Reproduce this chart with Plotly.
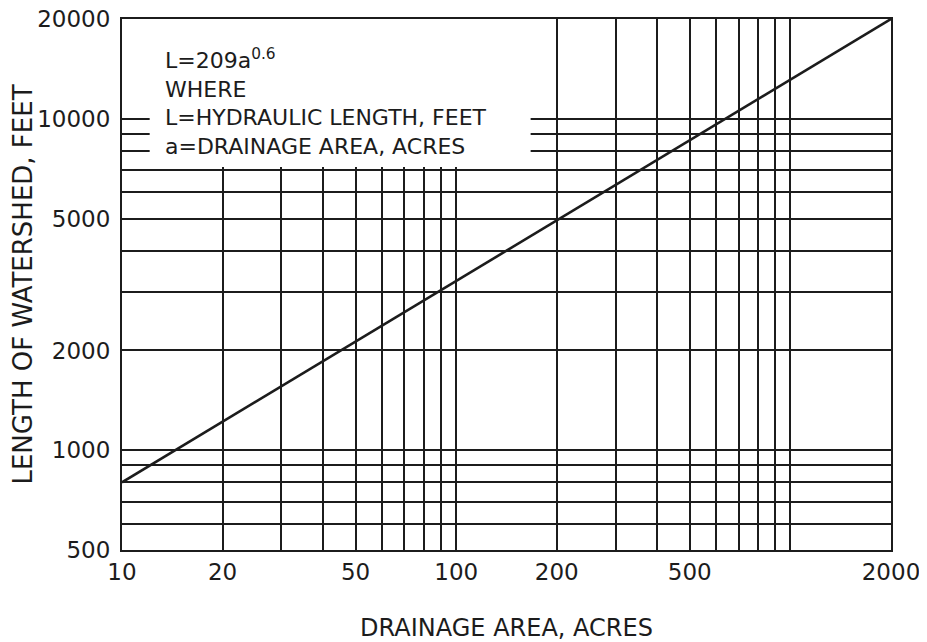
import plotly.graph_objects as go

# ---- data ----
area_acres = [10, 2000]          # drainage area, acres (line endpoints)
length_feet = [800, 20000]       # hydraulic length, feet

x_tick_vals = [10, 20, 50, 100, 200, 500, 2000]
x_tick_text = ["10", "20", "50", "100", "200", "500", "2000"]
x_minor_grid = [30, 40, 60, 70, 80, 90, 300, 400, 600, 700, 800, 900, 1000]

y_tick_vals = [500, 1000, 2000, 5000, 10000, 20000]
y_tick_text = ["500", "1000", "2000", "5000", "10000", "20000"]
y_minor_grid = [600, 700, 800, 900, 3000, 4000, 6000, 7000, 8000, 9000]

INK = "#1c1c1c"
FONT = "DejaVu Sans"

fig = go.Figure()
fig.add_trace(go.Scatter(
    x=area_acres, y=length_feet, mode="lines",
    line=dict(color=INK, width=2.6), showlegend=False, hoverinfo="skip"))

fig.update_xaxes(
    type="log", range=[1, 3.30103], automargin=False,
    tickmode="array", tickvals=x_tick_vals, ticktext=x_tick_text,
    showgrid=True, gridcolor=INK, gridwidth=1.6,
    minor=dict(tickmode="array", tickvals=x_minor_grid, showgrid=True,
               gridcolor=INK, gridwidth=1.6, ticks=""),
    showline=True, linecolor=INK, linewidth=2.2, mirror=True,
    ticks="", ticklabelstandoff=0, ticklabeloverflow="allow", zeroline=False,
    tickfont=dict(family=FONT, size=23, color=INK),
    title=dict(text="DRAINAGE AREA, ACRES", standoff=36,
               font=dict(family=FONT, size=24, color=INK)))

fig.update_yaxes(
    type="log", range=[2.69897, 4.30103], automargin=False,
    tickmode="array", tickvals=y_tick_vals, ticktext=y_tick_text,
    showgrid=True, gridcolor=INK, gridwidth=1.6,
    minor=dict(tickmode="array", tickvals=y_minor_grid, showgrid=True,
               gridcolor=INK, gridwidth=1.6, ticks=""),
    showline=True, linecolor=INK, linewidth=2.2, mirror=True,
    ticks="", ticklabelstandoff=5, ticklabeloverflow="allow", zeroline=False,
    tickfont=dict(family=FONT, size=23, color=INK),
    title=dict(text="LENGTH OF WATERSHED, FEET", standoff=2,
               font=dict(family=FONT, size=26, color=INK)))

# white label panel that interrupts the grid
fig.add_shape(type="rect", xref="x", yref="y",
              x0=12.1, x1=167, y0=7150, y1=20000,
              fillcolor="white", line=dict(width=0), layer="between")

fig.add_annotation(
    xref="paper", yref="paper", x=0.053, y=0.955,
    xanchor="left", yanchor="top", align="left", showarrow=False,
    text=("L=209a<sup>0.6</sup><br>WHERE<br>"
          "L=HYDRAULIC LENGTH, FEET<br>a=DRAINAGE AREA, ACRES"),
    font=dict(family=FONT, size=22, color=INK))

# page body adds an 8px offset, so the figure is sized to the remaining window
fig.update_layout(
    width=919, height=634,
    margin=dict(l=114, r=36, t=11, b=92),
    paper_bgcolor="white", plot_bgcolor="white",
    showlegend=False)

fig.write_html("out.html")
